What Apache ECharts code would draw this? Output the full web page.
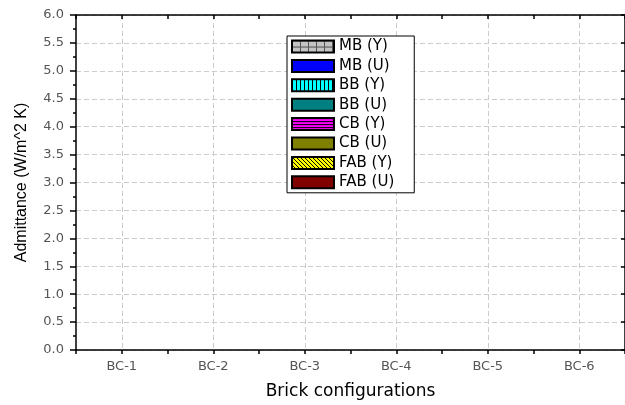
<!DOCTYPE html>
<html>
<head>
<meta charset="utf-8">
<script src="https://cdn.jsdelivr.net/npm/echarts@6/dist/echarts.min.js"></script>
<style>
  html, body { margin: 0; padding: 0; background: #fff; }
  #chart { width: 625px; height: 405px; }
</style>
</head>
<body>
<div id="chart"></div>
<script>
// ---- data ----
const categories = ['BC-1', 'BC-2', 'BC-3', 'BC-4', 'BC-5', 'BC-6'];
const seriesNames = ['MB (Y)', 'MB (U)', 'BB (Y)', 'BB (U)', 'CB (Y)', 'CB (U)', 'FAB (Y)', 'FAB (U)'];
// No bars are visible in the reference: every value is empty.
const mbY  = [null, null, null, null, null, null];
const mbU  = [null, null, null, null, null, null];
const bbY  = [null, null, null, null, null, null];
const bbU  = [null, null, null, null, null, null];
const cbY  = [null, null, null, null, null, null];
const cbU  = [null, null, null, null, null, null];
const fabY = [null, null, null, null, null, null];
const fabU = [null, null, null, null, null, null];
const yTicks = ['0.0','0.5','1.0','1.5','2.0','2.5','3.0','3.5','4.0','4.5','5.0','5.5','6.0'];
// helper positions (category boundaries and centres) for grid lines / minor ticks
const halfSteps = ['', '', '', '', '', '', '', '', '', '', '', '', ''];

// ---- patterns ----
function makePattern(w, h, bg, draw) {
  const c = document.createElement('canvas');
  c.width = w; c.height = h;
  const g = c.getContext('2d');
  g.fillStyle = bg; g.fillRect(0, 0, w, h);
  g.strokeStyle = '#000'; g.fillStyle = '#000';
  draw(g, w, h);
  return { image: c, repeat: 'repeat' };
}
const gridPat = makePattern(8, 6, '#c4c4c4', (g, w, h) => {
  g.fillStyle = '#555';
  g.fillRect(0, 0, 1, h);
  g.fillRect(0, 0, w, 1);
});
const vertPat = makePattern(4, 4, '#00ffff', (g, w, h) => {
  g.fillRect(0, 0, 1, h);
});
const horzPat = makePattern(4, 3, '#ff00ff', (g, w, h) => {
  g.fillRect(0, 0, w, 1);
});
const diagPat = makePattern(4, 4, '#ffff00', (g, w, h) => {
  g.fillRect(0, 0, 1, 1); g.fillRect(1, 1, 1, 1); g.fillRect(2, 2, 1, 1); g.fillRect(3, 3, 1, 1);
});

const seriesData = [mbY, mbU, bbY, bbU, cbY, cbU, fabY, fabU];
const seriesColors = [gridPat, '#0000ff', vertPat, '#008080', horzPat, '#808000', diagPat, '#800000'];

const font = 'DejaVu Sans';
const axisBlack = { color: '#000', width: 1.5 };
const dashed = { color: '#cccccc', type: [5, 3], width: 1 };

const chart = echarts.init(document.getElementById('chart'), null, { renderer: 'canvas' });
chart.setOption({
  animation: false,
  backgroundColor: '#fff',
  grid: { left: 76, top: 15, width: 554, height: 338, containLabel: false },
  legend: {
    orient: 'vertical',
    left: 287, top: 36,
    padding: [3, 20, 3, 4],
    itemWidth: 42, itemHeight: 12, itemGap: 4.4,
    icon: 'rect',
    backgroundColor: '#fff',
    borderColor: '#000', borderWidth: 1,
    textStyle: { fontFamily: font, fontSize: 15, color: '#000', lineHeight: 15 },
    data: seriesNames
  },
  xAxis: [
    {
      type: 'category', data: categories, position: 'bottom', boundaryGap: true,
      axisLine: { lineStyle: axisBlack },
      axisTick: { alignWithLabel: true, length: 6, lineStyle: axisBlack },
      axisLabel: { color: '#555', fontFamily: font, fontSize: 13, margin: 10 },
      splitLine: { show: false },
      name: 'Brick configurations', nameLocation: 'middle', nameGap: 33,
      nameTextStyle: { fontFamily: font, fontSize: 17, color: '#000' }
    },
    {
      type: 'category', data: halfSteps, position: 'bottom', boundaryGap: false,
      axisLine: { show: false },
      axisTick: { show: true, interval: 0, length: 4, lineStyle: axisBlack },
      axisLabel: { show: false },
      splitLine: { show: true, interval: (i) => i % 2 === 1, lineStyle: dashed }
    },
    {
      type: 'category', data: halfSteps, position: 'top', boundaryGap: false,
      axisLine: { show: true, lineStyle: axisBlack },
      axisTick: { show: true, inside: true, interval: 0, length: 4, lineStyle: axisBlack },
      axisLabel: { show: false },
      splitLine: { show: false }
    }
  ],
  yAxis: [
    {
      type: 'value', min: 0, max: 6, interval: 0.5, position: 'left',
      axisLine: { show: true, lineStyle: axisBlack },
      axisTick: { show: true, length: 6, lineStyle: axisBlack },
      minorTick: { show: true, splitNumber: 2, length: 3, lineStyle: axisBlack },
      axisLabel: {
        color: '#555', fontFamily: font, fontSize: 13, margin: 12,
        formatter: (v) => yTicks[Math.round(v * 2)]
      },
      splitLine: { show: true, lineStyle: dashed },
      name: 'Admittance (W/m^2 K)', nameLocation: 'middle', nameGap: 46, nameRotate: 90,
      nameTextStyle: { fontFamily: 'Liberation Sans', fontSize: 16, color: '#000' }
    },
    {
      type: 'value', min: 0, max: 6, interval: 0.5, position: 'right',
      axisLine: { show: true, lineStyle: axisBlack },
      axisTick: { show: true, inside: true, length: 4, lineStyle: axisBlack },
      axisLabel: { show: false },
      splitLine: { show: false }
    }
  ],
  series: seriesNames.map((n, i) => ({
    name: n, type: 'bar', xAxisIndex: 0, yAxisIndex: 0,
    data: seriesData[i],
    itemStyle: { color: seriesColors[i], borderColor: '#000', borderWidth: 1 }
  }))
});
</script>
</body>
</html>
